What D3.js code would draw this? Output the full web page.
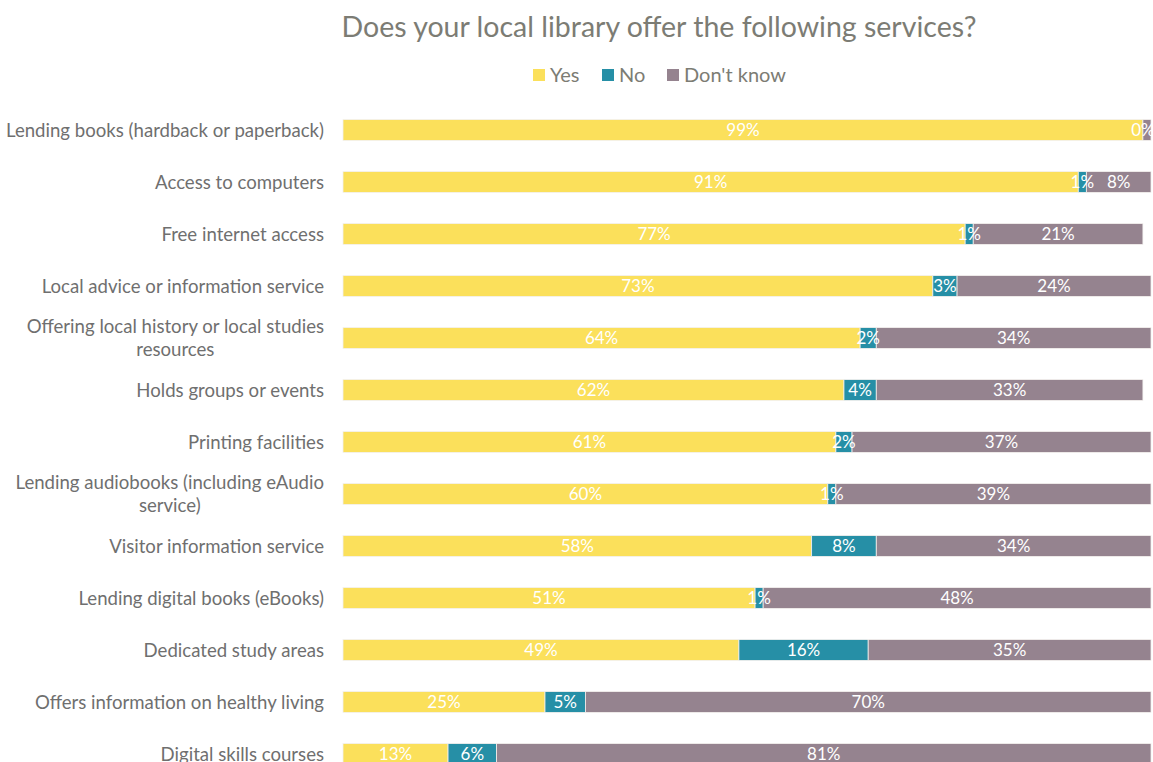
<!DOCTYPE html>
<html>
<head>
<meta charset="utf-8">
<script src="https://cdn.jsdelivr.net/npm/d3@7"></script>
<style>
  html, body { margin: 0; padding: 0; background: #ffffff; }
  svg { display: block; font-family: Lato, "Open Sans", sans-serif; }
</style>
</head>
<body>
<svg id="chart" width="1153" height="762"></svg>
<script>
// Survey services, top to bottom
const categories = [
  "Lending books (hardback or paperback)",
  "Access to computers",
  "Free internet access",
  "Local advice or information service",
  "Offering local history or local studies resources",
  "Holds groups or events",
  "Printing facilities",
  "Lending audiobooks (including eAudio service)",
  "Visitor information service",
  "Lending digital books (eBooks)",
  "Dedicated study areas",
  "Offers information on healthy living",
  "Digital skills courses"
];
// Wrapped label lines for long category names
const labelLines = [
  ["Lending books (hardback or paperback)"],
  ["Access to computers"],
  ["Free internet access"],
  ["Local advice or information service"],
  ["Offering local history or local studies", "resources"],
  ["Holds groups or events"],
  ["Printing facilities"],
  ["Lending audiobooks (including eAudio", "service)"],
  ["Visitor information service"],
  ["Lending digital books (eBooks)"],
  ["Dedicated study areas"],
  ["Offers information on healthy living"],
  ["Digital skills courses"]
];
const yesValues     = [99, 91, 77, 73, 64, 62, 61, 60, 58, 51, 49, 25, 13];
const noValues      = [ 0,  1,  1,  3,  2,  4,  2,  1,  8,  1, 16,  5,  6];
const dontKnowValues= [ 1,  8, 21, 24, 34, 33, 37, 39, 34, 48, 35, 70, 81];
// Rows whose "Don't know" label is not shown
const hiddenDkLabels = [0];

const seriesNames  = ["Yes", "No", "Don't know"];
const seriesColors = ["#FBE05B", "#268FA6", "#95838F"];

const svg = d3.select("#chart");
const plot = { left: 343, right: 1151, top: 104, rowStep: 52 };

const x = d3.scaleLinear().domain([0, 100]).range([plot.left, plot.right]);
const y = d3.scaleBand()
  .domain(d3.range(categories.length))
  .range([plot.top, plot.top + plot.rowStep * categories.length])
  .paddingInner(0.6).paddingOuter(0.3);

// Title
svg.append("text")
  .attr("x", 659).attr("y", 37)
  .attr("text-anchor", "middle")
  .attr("fill", "#7c7c74")
  .attr("font-size", 28.5)
  .text("Does your local library offer the following services?");

// Legend
const legendItems = [
  { name: seriesNames[0], color: seriesColors[0], x: 533 },
  { name: seriesNames[1], color: seriesColors[1], x: 602 },
  { name: seriesNames[2], color: seriesColors[2], x: 667 }
];
const lg = svg.append("g").selectAll("g").data(legendItems).join("g")
  .attr("transform", d => `translate(${d.x},0)`);
lg.append("rect").attr("x", 0).attr("y", 69).attr("width", 12).attr("height", 12)
  .attr("fill", d => d.color);
lg.append("text").attr("x", 17).attr("y", 82)
  .attr("fill", "#7c7c74").attr("font-size", 20)
  .text(d => d.name);

// Stack the three series
const rows = categories.map((c, i) => ({
  i, "Yes": yesValues[i], "No": noValues[i], "Don't know": dontKnowValues[i]
}));
const stack = d3.stack().keys(seriesNames)(rows);

const bars = svg.append("g");
stack.forEach((layer, si) => {
  const g = bars.append("g");
  g.selectAll("rect").data(layer).join("rect")
    .attr("x", d => x(d[0]))
    .attr("y", d => y(d.data.i))
    .attr("width", d => Math.max(0, x(d[1]) - x(d[0])))
    .attr("height", y.bandwidth())
    .attr("fill", seriesColors[si])
    .attr("stroke", "#f3f1ee")
    .attr("stroke-width", 0.8);
});

// Value labels
stack.forEach((layer, si) => {
  bars.append("g").selectAll("text")
    .data(layer.filter(d => !(si === 2 && hiddenDkLabels.includes(d.data.i))))
    .join("text")
    .attr("x", d => (x(d[0]) + x(d[1])) / 2)
    .attr("y", d => y(d.data.i) + y.bandwidth() / 2)
    .attr("dy", "0.36em")
    .attr("text-anchor", "middle")
    .attr("fill", "#ffffff")
    .attr("font-size", 17)
    .text(d => Math.round(d[1] - d[0]) + "%");
});

// Category labels
const cat = svg.append("g").selectAll("text").data(labelLines).join("text")
  .attr("text-anchor", "end")
  .attr("fill", "#6f6f6f")
  .attr("font-size", 18.6)
  .attr("transform", (d, i) => `translate(324,${y(i) + y.bandwidth() / 2})`);
cat.each(function(lines) {
  const t = d3.select(this);
  const lh = 23;
  const offset = -(lines.length - 1) * lh / 2;
  lines.forEach((line, k) => {
    t.append("tspan")
      .attr("x", 0)
      .attr("y", offset + k * lh)
      .attr("dy", "0.36em")
      .attr("text-anchor", k > 0 ? "middle" : "end")
      .text(line);
  });
});
// Continuation lines of wrapped labels are centered under the first line
cat.each(function(lines) {
  if (lines.length < 2) return;
  const spans = d3.select(this).selectAll("tspan").nodes();
  const w0 = spans[0].getComputedTextLength();
  spans.slice(1).forEach(s => d3.select(s).attr("x", -w0 / 2));
});
</script>
</body>
</html>
